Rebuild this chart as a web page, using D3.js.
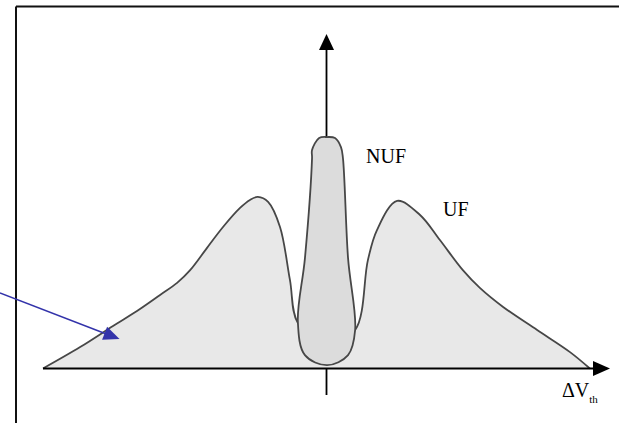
<!DOCTYPE html>
<html>
<head>
<meta charset="utf-8">
<script src="https://cdn.jsdelivr.net/npm/d3@7"></script>
<style>
  html, body { margin: 0; padding: 0; background: #fff; }
  svg { display: block; }
  text { font-family: "Liberation Serif", "Times New Roman", serif; fill: #000; }
</style>
</head>
<body>
<svg id="chart" width="619" height="423"></svg>
<script>
// ---- Data (ΔVth units on x, relative density on y) ----
const ufX = [-10.0, -8.69, -7.53, -6.58, -5.87, -5.27, -4.81, -4.22, -3.65, -3.05, -2.70, -2.42, -2.06, -1.64, -1.29, -1.01, 0.02, 1.01, 1.46, 1.78, 2.49, 3.30, 4.00, 4.81, 5.41, 6.23, 7.43, 8.59, 9.29];
const ufY = [0, 0.64, 1.27, 1.78, 2.20, 2.56, 2.94, 3.60, 4.23, 4.80, 5.04, 5.13, 4.98, 4.23, 2.65, 1.36, 0.70, 1.15, 3.24, 4.14, 5.01, 4.59, 3.84, 2.94, 2.41, 1.84, 1.15, 0.49, 0];

// NUF outline (closed loop)
const nufX = [0.02, 0.30, 0.51, 0.58, 0.76, 1.01, 0.76, 0.02, -0.76, -1.01, -0.76, -0.51, -0.51, -0.26];
const nufY = [6.92, 6.89, 6.62, 6.29, 3.30, 1.15, 0.40, 0.10, 0.40, 1.39, 3.30, 6.29, 6.53, 6.89];

const labels = { nuf: "NUF", uf: "UF", axis: "ΔV", axisSub: "th" };
const xAxisExtent = [-10, 10];
const yAxisExtent = [-0.79, 10];
const pointerFrom = [-11.52, 2.26];
const pointerTo = [-7.3, 0.88];

// ---- Scales ----
const x = d3.scaleLinear().domain([-10, 10]).range([43, 610]);
const y = d3.scaleLinear().domain([0, 10]).range([368.5, 34]);

const svg = d3.select("#chart");

// Frame (top and left edges)
svg.append("line").attr("x1", 16).attr("y1", 6.5).attr("x2", 619).attr("y2", 6.5)
  .attr("stroke", "#111").attr("stroke-width", 2);
svg.append("line").attr("x1", 16).attr("y1", 6.5).attr("x2", 16).attr("y2", 423)
  .attr("stroke", "#111").attr("stroke-width", 2);

function arrowHead(tip, dirX, dirY, len, half, color) {
  const bx = tip[0] - dirX * len, by = tip[1] - dirY * len;
  const px = -dirY, py = dirX;
  svg.append("path")
    .attr("d", `M${tip[0]},${tip[1]}L${bx + px * half},${by + py * half}L${bx - px * half},${by - py * half}Z`)
    .attr("fill", color);
}

// Vertical axis
svg.append("line")
  .attr("x1", x(0)).attr("x2", x(0))
  .attr("y1", y(yAxisExtent[0])).attr("y2", y(yAxisExtent[1]) + 12)
  .attr("stroke", "#000").attr("stroke-width", 1.8);
arrowHead([x(0), y(yAxisExtent[1])], 0, -1, 16, 7.5, "#000");

// UF area
const ufData = ufX.map((d, i) => [d, ufY[i]]);
const curve = d3.curveCatmullRom.alpha(0.5);
const area = d3.area().x(d => x(d[0])).y0(y(0)).y1(d => y(d[1])).curve(curve);
const line = d3.line().x(d => x(d[0])).y(d => y(d[1])).curve(curve);
svg.append("path").attr("d", area(ufData)).attr("fill", "#e8e8e8");
svg.append("path").attr("d", line(ufData)).attr("fill", "none")
  .attr("stroke", "#474747").attr("stroke-width", 1.8);

// NUF closed shape
const nufData = nufX.map((d, i) => [d, nufY[i]]);
const closed = d3.line().x(d => x(d[0])).y(d => y(d[1])).curve(d3.curveCatmullRomClosed.alpha(0.5));
svg.append("path").attr("d", closed(nufData))
  .attr("fill", "#dcdcdc").attr("stroke", "#474747").attr("stroke-width", 1.8);

// Horizontal axis
svg.append("line")
  .attr("x1", x(xAxisExtent[0])).attr("x2", x(xAxisExtent[1]) - 12)
  .attr("y1", y(0)).attr("y2", y(0))
  .attr("stroke", "#000").attr("stroke-width", 1.8);
arrowHead([x(xAxisExtent[1]), y(0)], 1, 0, 17, 7.5, "#000");

// Blue pointer arrow
{
  const p0 = [x(pointerFrom[0]), y(pointerFrom[1])];
  const p1 = [x(pointerTo[0]), y(pointerTo[1])];
  const dx = p1[0] - p0[0], dy = p1[1] - p0[1];
  const L = Math.hypot(dx, dy);
  const ux = dx / L, uy = dy / L;
  svg.append("line")
    .attr("x1", p0[0]).attr("y1", p0[1])
    .attr("x2", p1[0] - ux * 10).attr("y2", p1[1] - uy * 10)
    .attr("stroke", "#3333aa").attr("stroke-width", 1.6);
  arrowHead(p1, ux, uy, 16, 7, "#3333aa");
}

// Labels
svg.append("text").attr("x", 366).attr("y", 163).attr("font-size", 20).text(labels.nuf);
svg.append("text").attr("x", 443).attr("y", 216).attr("font-size", 20).text(labels.uf);
const t = svg.append("text").attr("x", 562).attr("y", 397).attr("font-size", 20);
t.append("tspan").text(labels.axis);
t.append("tspan").attr("font-size", 11).attr("dy", 6).text(labels.axisSub);
</script>
</body>
</html>
